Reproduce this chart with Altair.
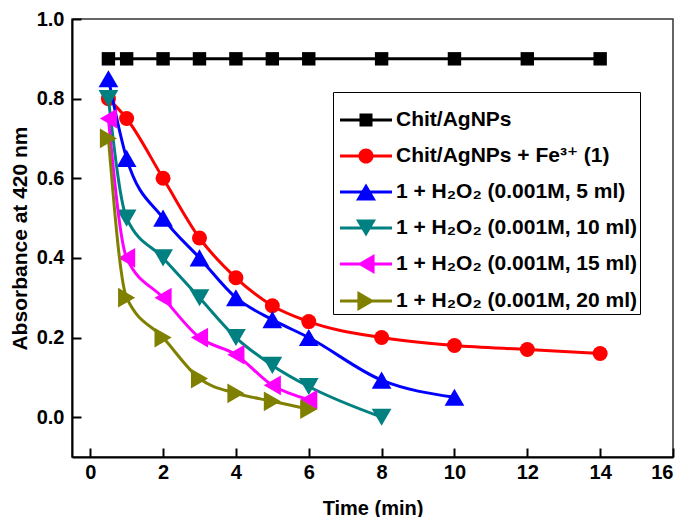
import altair as alt
import pandas as pd

series = [
    "Chit/AgNPs",
    "Chit/AgNPs + Fe³⁺ (1)",
    "1 + H₂O₂ (0.001M, 5 ml)",
    "1 + H₂O₂ (0.001M, 10 ml)",
    "1 + H₂O₂ (0.001M, 15 ml)",
    "1 + H₂O₂ (0.001M, 20 ml)",
]
colors = ["#000000", "#FF0000", "#0000FF", "#008080", "#FF00FF", "#808000"]

times = [
    [0.5, 1, 2, 3, 4, 5, 6, 8, 10, 12, 14],
    [0.5, 1, 2, 3, 4, 5, 6, 8, 10, 12, 14],
    [0.5, 1, 2, 3, 4, 5, 6, 8, 10],
    [0.5, 1, 2, 3, 4, 5, 6, 8],
    [0.5, 1, 2, 3, 4, 5, 6],
    [0.5, 1, 2, 3, 4, 5, 6],
]
absorbance = [
    [0.90, 0.90, 0.90, 0.90, 0.90, 0.90, 0.90, 0.90, 0.90, 0.90, 0.90],
    [0.80, 0.75, 0.60, 0.45, 0.35, 0.28, 0.24, 0.20, 0.18, 0.17, 0.16],
    [0.85, 0.65, 0.50, 0.40, 0.30, 0.245, 0.20, 0.093, 0.05],
    [0.80, 0.50, 0.40, 0.30, 0.20, 0.13, 0.077, 0.0],
    [0.75, 0.40, 0.30, 0.20, 0.157, 0.08, 0.044],
    [0.70, 0.30, 0.20, 0.097, 0.06, 0.04, 0.02],
]

x_ticks = [0, 2, 4, 6, 8, 10, 12, 14, 16]
y_ticks = [0.0, 0.2, 0.4, 0.6, 0.8, 1.0]

marker_shapes = ["square", "circle", "triangle-up", "triangle-down",
                 "triangle-left", "triangle-right"]
marker_sizes = [180, 225, 390, 390, 390, 390]

# legend symbols: line segment + marker (unit box [-1, 1])
LINE = "M-1,-0.058H1V0.058H-1Z"
legend_paths = [
    LINE + "M-0.25,-0.25H0.25V0.25H-0.25Z",
    LINE + "M-0.29,0A0.29,0.29,0,1,1,0.29,0A0.29,0.29,0,1,1,-0.29,0Z",
    LINE + "M0,-0.33L0.385,0.33L-0.385,0.33Z",
    LINE + "M0,0.33L-0.385,-0.33L0.385,-0.33Z",
    LINE + "M-0.33,0L0.33,-0.385L0.33,0.385Z",
    LINE + "M0.33,0L-0.33,0.385L-0.33,-0.385Z",
]

rows = []
for s, ts, vs in zip(series, times, absorbance):
    for t, v in zip(ts, vs):
        rows.append({"s": s, "t": t, "a": v})
df = pd.DataFrame(rows)

FONT = "Liberation Sans, Arial, DejaVu Sans, sans-serif"
W, H = 601, 438

x_scale = alt.Scale(domain=[-0.5, 16], nice=False, zero=False)
y_scale = alt.Scale(domain=[-0.1, 1.0], nice=False, zero=False)
color_scale = alt.Scale(domain=series, range=colors)

x_axis = alt.Axis(values=x_ticks, format="d", ticks=False, tickSize=0, grid=False,
                  domainColor="black", domainWidth=2,
                  labelFont=FONT, labelFontSize=20, labelFontWeight="bold",
                  labelColor="black", labelPadding=5,
                  title="Time (min)", titleFont=FONT, titleFontSize=20,
                  titleFontWeight="bold", titleColor="black", titlePadding=16)
y_axis = alt.Axis(values=y_ticks, format=".1f", ticks=False, tickSize=0, grid=False,
                  domainColor="black", domainWidth=2,
                  labelFont=FONT, labelFontSize=20, labelFontWeight="bold",
                  labelColor="black", labelPadding=8,
                  title="Absorbance at 420 nm", titleFont=FONT, titleFontSize=21,
                  titleFontWeight="bold", titleColor="black", titlePadding=6)

X = alt.X("t:Q", scale=x_scale, axis=x_axis)
Y = alt.Y("a:Q", scale=y_scale, axis=y_axis)

layers = []
for i, s in enumerate(series):
    sub = df[df["s"] == s]
    base = alt.Chart(sub).encode(
        x=X, y=Y, color=alt.Color("s:N", scale=color_scale, legend=None)
    )
    layers.append(base.mark_line(interpolate="monotone", strokeWidth=3))
    layers.append(base.mark_point(shape=marker_shapes[i], size=marker_sizes[i],
                                  filled=True, opacity=1))
data_layer = alt.layer(*layers)

legend_props = dict(orient="none", legendX=261, legendY=73, title=None,
                    strokeColor="black", fillColor="white", padding=2,
                    symbolOffset=5,
                    labelFont=FONT, labelFontSize=21, labelFontWeight="bold",
                    labelColor="black", labelLimit=400, labelOffset=4,
                    symbolSize=2704, symbolStrokeWidth=0, symbolOpacity=1,
                    rowPadding=-2)

tick_x_axis = alt.Axis(orient="top", offset=-H, values=x_ticks, labels=False,
                       domain=False, ticks=True, tickSize=9, tickWidth=2,
                       tickColor="black", title=None, grid=False)
tick_y_axis = alt.Axis(orient="right", offset=-W, values=y_ticks, labels=False,
                       domain=False, ticks=True, tickSize=9, tickWidth=2,
                       tickColor="black", title=None, grid=False)

legend_layer = alt.Chart(df).transform_filter("false").mark_point(
    filled=True, size=2704, opacity=1
).encode(
    x=alt.X("t:Q", scale=x_scale, axis=tick_x_axis),
    y=alt.Y("a:Q", scale=y_scale, axis=tick_y_axis),
    color=alt.Color("s:N", scale=color_scale, legend=alt.Legend(**legend_props)),
    shape=alt.Shape("s:N", scale=alt.Scale(domain=series, range=legend_paths),
                    legend=alt.Legend(**legend_props)),
)

chart = alt.layer(legend_layer, data_layer).resolve_axis(
    x="independent", y="independent"
).properties(
    width=W, height=H,
    padding={"left": 64, "top": 11, "right": 4, "bottom": 60},
    autosize=alt.AutoSizeParams(type="none"),
    background="white",
).configure_view(stroke="#333333", strokeWidth=1.5)

chart.save("out.html", embed_options={"renderer": "svg", "actions": False})
